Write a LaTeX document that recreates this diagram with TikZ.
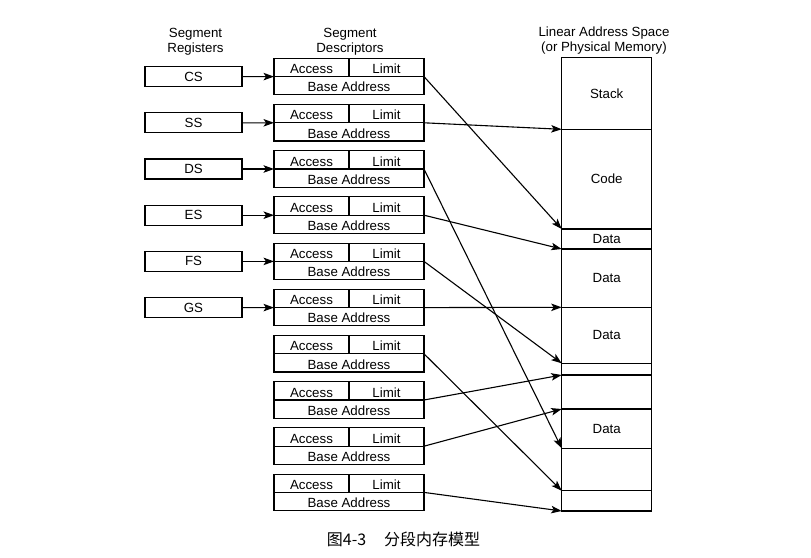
\documentclass[tikz,border=0pt]{standalone}
\usepackage{fontspec}
\setmainfont{Liberation Sans}
\newfontfamily\cjkfont{Noto Sans CJK SC}
\usetikzlibrary{positioning,arrows.meta}

\tikzset{
  reg/.style={draw, minimum width=97pt, minimum height=20pt, inner sep=0pt, outer sep=0pt},
  acc/.style={draw, minimum width=75pt, minimum height=18.3pt, inner sep=0pt, outer sep=0pt,
    text height=12.5pt, text depth=0pt},
  base/.style={draw, minimum width=150pt, minimum height=18.2pt, inner sep=0pt, outer sep=0pt,
    text height=12.5pt, text depth=0pt},
  mem/.style={draw, minimum width=90pt, inner sep=0pt, outer sep=0pt},
  link/.style={-{Stealth[length=10.5pt,width=7.5pt,inset=2.5pt]}},
}

\begin{document}
\begin{tikzpicture}[x=1pt, y=-1pt, line width=1.1pt, font=\fontsize{13.3}{15.4}\selectfont]
\useasboundingbox (0,0) rectangle (811,557);
% headings
\node[align=center] (hreg) at (195.5, 42) {Segment\\Registers};
\node[align=center] (hdesc) at (350, 42) {Segment\\Descriptors};
\node[align=center] (hmem) at (604, 40.5) {Linear Address Space\\(or Physical Memory)};
% segment registers
\node[reg] (cs) at (193.5, 76.6) {CS};
\node[reg] (ss) at (193.5, 122.8) {SS};
\node[reg] (ds) at (193.5, 169.0) {DS};
\node[reg] (es) at (193.5, 215.2) {ES};
\node[reg] (fs) at (193.5, 261.4) {FS};
\node[reg] (gs) at (193.5, 307.6) {GS};
% descriptors
\node[acc] (acc1) at (311.5, 67.45) {Access};
\node[acc, right=0pt of acc1] (lim1) {Limit};
\node[base, anchor=north west] (base1) at (acc1.south west) {Base Address};
\node[acc] (acc2) at (311.5, 113.65) {Access};
\node[acc, right=0pt of acc2] (lim2) {Limit};
\node[base, anchor=north west] (base2) at (acc2.south west) {Base Address};
\node[acc] (acc3) at (311.5, 159.85) {Access};
\node[acc, right=0pt of acc3] (lim3) {Limit};
\node[base, anchor=north west] (base3) at (acc3.south west) {Base Address};
\node[acc] (acc4) at (311.5, 206.05) {Access};
\node[acc, right=0pt of acc4] (lim4) {Limit};
\node[base, anchor=north west] (base4) at (acc4.south west) {Base Address};
\node[acc] (acc5) at (311.5, 252.25) {Access};
\node[acc, right=0pt of acc5] (lim5) {Limit};
\node[base, anchor=north west] (base5) at (acc5.south west) {Base Address};
\node[acc] (acc6) at (311.5, 298.45) {Access};
\node[acc, right=0pt of acc6] (lim6) {Limit};
\node[base, anchor=north west] (base6) at (acc6.south west) {Base Address};
\node[acc] (acc7) at (311.5, 344.65) {Access};
\node[acc, right=0pt of acc7] (lim7) {Limit};
\node[base, anchor=north west] (base7) at (acc7.south west) {Base Address};
\node[acc] (acc8) at (311.5, 390.85) {Access};
\node[acc, right=0pt of acc8] (lim8) {Limit};
\node[base, anchor=north west] (base8) at (acc8.south west) {Base Address};
\node[acc] (acc9) at (311.5, 437.05) {Access};
\node[acc, right=0pt of acc9] (lim9) {Limit};
\node[base, anchor=north west] (base9) at (acc9.south west) {Base Address};
\node[acc] (acc10) at (311.5, 483.25) {Access};
\node[acc, right=0pt of acc10] (lim10) {Limit};
\node[base, anchor=north west] (base10) at (acc10.south west) {Base Address};
% linear address space
\node[mem, minimum height=71.6pt, anchor=north west] (stack) at (561.7, 57.7) {Stack};
\node[mem, minimum height=99.7pt, below=0pt of stack] (code) {Code};
\node[mem, minimum height=20pt, below=0pt of code] (data1) {Data};
\node[mem, minimum height=58.3pt, below=0pt of data1] (data2) {Data};
\node[mem, minimum height=56pt, below=0pt of data2] (data3) {Data};
\node[mem, minimum height=11.7pt, below=0pt of data3] (free1) {};
\node[mem, minimum height=34pt, below=0pt of free1] (free2) {};
\node[mem, minimum height=39.3pt, below=0pt of free2] (data4) {Data};
\node[mem, minimum height=42.4pt, below=0pt of data4] (free3) {};
\node[mem, minimum height=20.3pt, below=0pt of free3] (free4) {};
% registers to descriptors
\draw[link] (cs.east) -- (acc1.south west);
\draw[link] (ss.east) -- (acc2.south west);
\draw[link] (ds.east) -- (acc3.south west);
\draw[link] (es.east) -- (acc4.south west);
\draw[link] (fs.east) -- (acc5.south west);
\draw[link] (gs.east) -- (acc6.south west);
% descriptors to memory
\draw[link] (lim1.south east) -- (code.south west);
\draw[link] (lim2.south east) -- (stack.south west);
\draw[link] (lim3.south east) -- (data4.south west);
\draw[link] (lim4.south east) -- (data1.south west);
\draw[link] (lim5.south east) -- (data3.south west);
\draw[link] (lim6.south east) -- (data2.south west);
\draw[link] (lim7.south east) -- (free3.south west);
\draw[link] (lim8.south east) -- (free1.south west);
\draw[link] (lim9.south east) -- (free2.south west);
\draw[link] (lim10.south east) -- (free4.south west);
% caption
\node[anchor=west, font=\cjkfont\fontsize{16}{18}\selectfont] (cap) at (323, 539) {图4-3\hspace{18pt}分段内存模型};
\end{tikzpicture}
\end{document}
